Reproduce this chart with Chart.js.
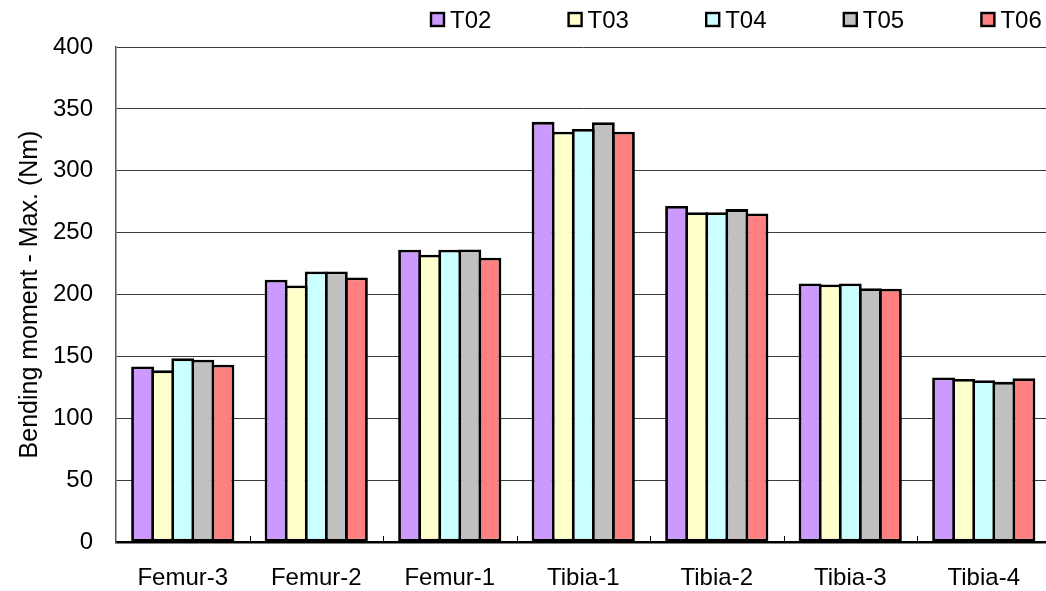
<!DOCTYPE html>
<html>
<head>
<meta charset="utf-8">
<script src="https://cdn.jsdelivr.net/npm/chart.js@4.4.1/dist/chart.umd.min.js"></script>
<style>
  html, body { margin: 0; padding: 0; background: #fff; overflow: hidden; }
  #wrap { width: 1052px; height: 591px; }
</style>
</head>
<body>
<div id="wrap"><canvas id="moment-chart" width="1052" height="591"></canvas></div>
<script>
// Maximum bending moment per bone segment, one series per test run
const categories = ['Femur-3', 'Femur-2', 'Femur-1', 'Tibia-1', 'Tibia-2', 'Tibia-3', 'Tibia-4'];
const seriesNames = ['T02', 'T03', 'T04', 'T05', 'T06'];
const t02 = [141.9, 212.0, 236.2, 339.5, 271.6, 208.9, 133.0];
const t03 = [138.7, 207.3, 232.2, 331.6, 266.5, 208.1, 131.8];
const t04 = [148.4, 218.6, 236.2, 333.8, 266.5, 208.9, 130.8];
const t05 = [147.3, 218.6, 236.4, 339.1, 269.0, 205.1, 129.4];
const t06 = [143.3, 213.8, 229.7, 331.6, 265.4, 204.6, 132.4];
const yTicks = [0, 50, 100, 150, 200, 250, 300, 350, 400];

const seriesValues = [t02, t03, t04, t05, t06];
const seriesColors = ['#cc99ff', '#ffffcc', '#ccffff', '#c0c0c0', '#ff8080'];
const FONT = "'Liberation Sans', Arial, sans-serif";

/**
 * Legend row in the top right corner: square swatch + series name
 */
const swatchLegend = {
    id: 'swatchLegend',
    afterDraw(chart) {
        const ctx = chart.ctx;
        ctx.save();
        ctx.font = '24px ' + FONT;
        ctx.textBaseline = 'alphabetic';
        ctx.textAlign = 'left';
        chart.data.datasets.forEach((ds, i) => {
            const x = 431 + i * 137.6;
            ctx.fillStyle = ds.backgroundColor;
            ctx.fillRect(x, 13, 13, 13);
            ctx.lineWidth = 2.4;
            ctx.strokeStyle = '#000';
            ctx.strokeRect(x, 13, 13, 13);
            ctx.fillStyle = '#000';
            ctx.fillText(ds.label, x + 19, 28);
        });
        ctx.restore();
    }
};

/**
 * Short inward tick marks between the category groups
 */
const groupTicks = {
    id: 'groupTicks',
    afterDatasetsDraw(chart) {
        const xs = chart.scales.x;
        const bottom = chart.chartArea.bottom;
        const ctx = chart.ctx;
        ctx.save();
        ctx.strokeStyle = '#000';
        ctx.lineWidth = 1;
        for (let i = 0; i < categories.length - 1; i++) {
            const px = Math.round((xs.getPixelForValue(i) + xs.getPixelForValue(i + 1)) / 2) + 0.5;
            ctx.beginPath();
            ctx.moveTo(px, bottom);
            ctx.lineTo(px, bottom - 6);
            ctx.stroke();
        }
        ctx.restore();
    }
};

const datasets = seriesNames.map((name, i) => ({
    label: name,
    data: seriesValues[i],
    backgroundColor: seriesColors[i],
    borderColor: '#000',
    borderWidth: 2.8,
    borderSkipped: false,
    categoryPercentage: 0.752,
    barPercentage: 1.14
}));

new Chart(document.getElementById('moment-chart'), {
    type: 'bar',
    data: { labels: categories, datasets: datasets },
    options: {
        responsive: false,
        animation: false,
        devicePixelRatio: 1,
        layout: { padding: { top: 47, right: 1.5, bottom: 0, left: 0 } },
        plugins: {
            legend: { display: false },
            tooltip: { enabled: false }
        },
        scales: {
            x: {
                afterFit(scale) { scale.height = 49; },
                grid: { drawOnChartArea: false, drawTicks: false },
                border: { color: '#000', width: 2.5 },
                ticks: {
                    color: '#000',
                    padding: 22,
                    font: { family: FONT, size: 24 }
                }
            },
            y: {
                min: 0,
                max: 400,
                afterFit(scale) { scale.width = 116; },
                afterBuildTicks(scale) { scale.ticks = yTicks.map(v => ({ value: v })); },
                grid: { color: '#3a3a3a', lineWidth: 1, drawTicks: false },
                border: { color: '#555', width: 1.5 },
                ticks: {
                    color: '#000',
                    padding: 23,
                    font: { family: FONT, size: 24 }
                },
                title: {
                    display: true,
                    text: 'Bending moment - Max. (Nm)',
                    color: '#000',
                    padding: { top: 15, bottom: 0 },
                    font: { family: FONT, size: 25, weight: 'normal' }
                }
            }
        }
    },
    plugins: [swatchLegend, groupTicks]
});
</script>
</body>
</html>
